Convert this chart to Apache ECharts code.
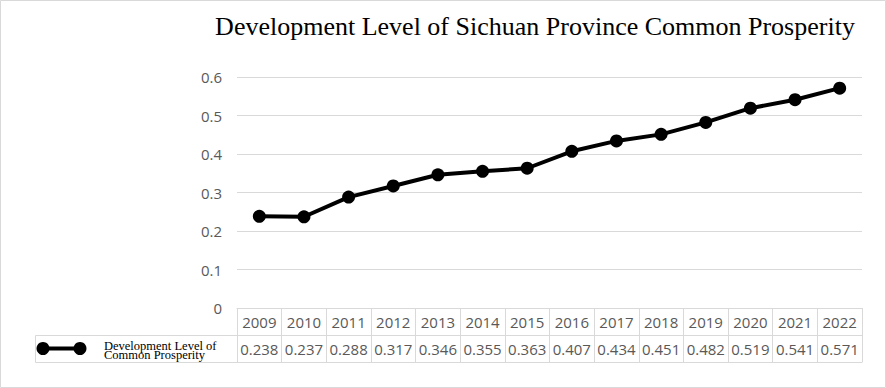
<!DOCTYPE html>
<html><head><meta charset="utf-8">
<script src="https://cdn.jsdelivr.net/npm/echarts@6/dist/echarts.min.js"></script>
<style>html,body{margin:0;padding:0;background:#fff}#c{width:886px;height:388px}</style>
</head><body><div id="c"></div>
<script>
const titleText = 'Development Level of Sichuan Province Common Prosperity';
const seriesName = 'Development Level of Common Prosperity';
const years = ['2009','2010','2011','2012','2013','2014','2015','2016','2017','2018','2019','2020','2021','2022'];
const values = [0.238,0.237,0.288,0.317,0.346,0.355,0.363,0.407,0.434,0.451,0.482,0.519,0.541,0.571];
const yTicks = [0,0.1,0.2,0.3,0.4,0.5,0.6];

const chart = echarts.init(document.getElementById('c'), null, {renderer:'svg'});
const gridLine = '#d9d9d9';
const labelColor = '#595959';
const sans = 'Open Sans';
const G = {left:237, right:24, top:77, bottom:80};
const row = 27;
const axTop = 388 - G.bottom;

chart.setOption({
  animation:false,
  backgroundColor:'#fff',
  title:{text:titleText, left:530, textAlign:'center', top:8,
    textStyle:{fontFamily:'Liberation Serif', fontWeight:'normal', fontSize:26, color:'#000'}},
  grid:G,
  xAxis:[
    {type:'category', data:years, position:'bottom', boundaryGap:true,
     axisLine:{show:true, lineStyle:{color:gridLine, width:1}},
     axisTick:{show:true, inside:false, length:row*2, interval:0, lineStyle:{color:gridLine, width:1}},
     axisLabel:{margin:6, interval:0, fontFamily:sans, fontSize:15, color:labelColor}},
    {type:'category', data:years, position:'bottom', offset:row, boundaryGap:true,
     axisLine:{show:true, lineStyle:{color:gridLine, width:1}},
     axisTick:{show:false},
     axisLabel:{margin:6, interval:0, fontFamily:sans, fontSize:15, color:labelColor,
       formatter:(v,i)=>values[i].toFixed(3)}},
    {type:'category', data:years, position:'bottom', offset:row*2, boundaryGap:true,
     axisLine:{show:true, lineStyle:{color:gridLine, width:1}},
     axisTick:{show:false}, axisLabel:{show:false}}
  ],
  yAxis:{type:'value', min:yTicks[0], max:yTicks[yTicks.length-1], interval:0.1,
    axisLine:{show:false}, axisTick:{show:false},
    splitLine:{lineStyle:{color:gridLine, width:1}},
    axisLabel:{margin:15, fontFamily:sans, fontSize:15, color:labelColor,
      formatter:v=>String(+v.toFixed(1))}},
  series:[{type:'line', name:seriesName, data:values, xAxisIndex:0,
    symbol:'circle', symbolSize:13,
    lineStyle:{color:'#000', width:4}, itemStyle:{color:'#000'}}],
  graphic:[
    {type:'rect', shape:{x:0.5,y:0.5,width:885,height:387}, style:{fill:'none', stroke:gridLine, lineWidth:1}, silent:true},
    {type:'rect', shape:{x:35.5,y:axTop+row+0.5,width:G.left-35,height:row}, style:{fill:'none', stroke:gridLine, lineWidth:1}, silent:true},
    {type:'line', shape:{x1:43,y1:axTop+row*1.5,x2:80,y2:axTop+row*1.5}, style:{stroke:'#000', lineWidth:4}, silent:true},
    {type:'circle', shape:{cx:43,cy:axTop+row*1.5,r:6.5}, style:{fill:'#000'}, silent:true},
    {type:'circle', shape:{cx:80,cy:axTop+row*1.5,r:6.5}, style:{fill:'#000'}, silent:true},
    {type:'text', left:104, top:axTop+row+4, style:{text:'Development Level of\nCommon Prosperity', font:'12.5px "Liberation Serif"', lineHeight:9, fill:'#000'}, silent:true}
  ]
});
</script></body></html>
